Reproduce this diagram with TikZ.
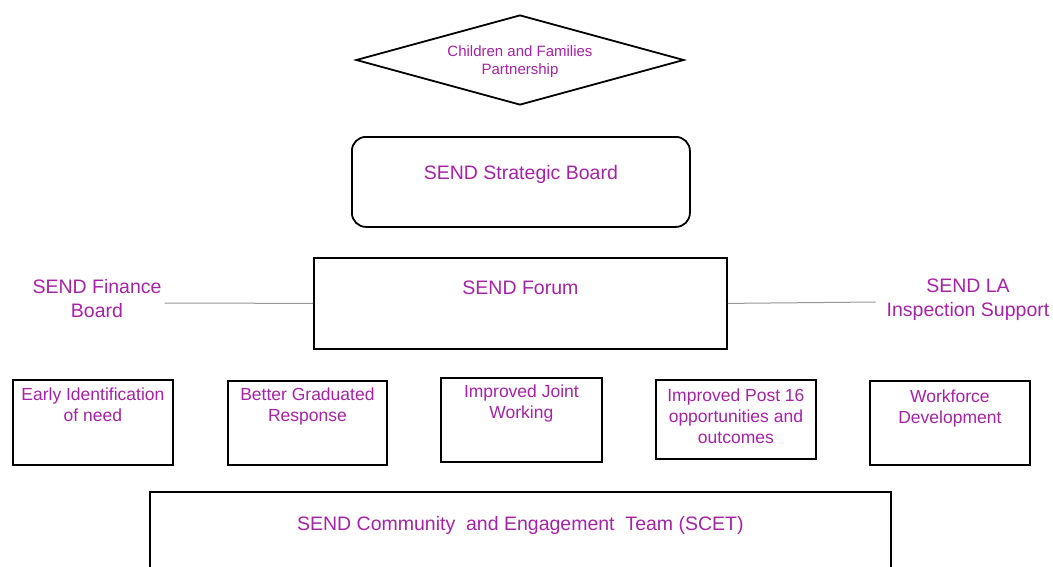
\documentclass[tikz,border=0pt]{standalone}
\usepackage{fontspec}
\setmainfont{Liberation Sans}
\usetikzlibrary{shapes.geometric}
\definecolor{txt}{RGB}{165,35,165}
\definecolor{conn}{RGB}{150,150,150}
\begin{document}
\begin{tikzpicture}[x=1pt,y=-1pt,
  box/.style={draw=black,line width=1.8pt,rectangle,inner sep=0pt,anchor=north west},
  lab/.style={text=txt,align=center,anchor=north,inner sep=0pt},
  big/.style={font=\fontsize{19.5}{24}\selectfont},
  small/.style={font=\fontsize{17.5}{21}\selectfont},
  connector/.style={draw=conn,line width=1pt}]
\useasboundingbox (0,0) rectangle (1053,566);
\clip (0,0) rectangle (1053,566);
\fill[white] (0,0) rectangle (1053,566);

% diamond
\node[diamond,draw=black,line width=1.8pt,aspect=3.64,minimum width=328pt,minimum height=90pt,inner sep=0pt,
      text=txt,align=center,text depth=0pt,font=\fontsize{15}{18.5}\selectfont] (cfp) at (520,60)
      {Children and Families\\Partnership};

% strategic board
\node[box,rounded corners=14pt,minimum width=338pt,minimum height=90pt,
      label={[lab,big,yshift=-29pt]north:SEND Strategic Board}] (board) at (351,136) {};

% forum
\node[box,minimum width=413pt,minimum height=91pt,
      label={[lab,big,yshift=-24pt]north:SEND Forum}] (forum) at (313,257) {};

% side labels
\node[text=txt,align=center,big,inner sep=3pt] (fin) at (97,299) {SEND Finance\\Board};
\node[text=txt,align=center,big,inner sep=3pt] (la) at (968,300) {SEND LA\\Inspection Support};
\draw[connector] ([yshift=-4pt]fin.east) -- (forum.west);
\draw[connector] (forum.east) -- ([xshift=-8pt,yshift=-2pt]la.west);

% workstream boxes
\node[box,minimum width=160pt,minimum height=85pt,
      label={[lab,small,yshift=-9pt]north:Early Identification\\of need}] (early) at (12,379) {};
\node[box,minimum width=159pt,minimum height=84pt,
      label={[lab,small,yshift=-8pt]north:Better Graduated\\Response}] (grad) at (227,380) {};
\node[box,minimum width=161pt,minimum height=84pt,
      label={[lab,small,yshift=-8pt]north:Improved Joint\\Working}] (joint) at (440,377) {};
\node[box,minimum width=160pt,minimum height=79pt,
      label={[lab,small,yshift=-10pt]north:Improved Post 16\\opportunities and\\outcomes}] (post) at (655,379) {};
\node[box,minimum width=160pt,minimum height=84pt,
      label={[lab,small,yshift=-10pt]north:Workforce\\Development}] (work) at (869,380) {};

% bottom box
\node[box,minimum width=741pt,minimum height=120pt,
      label={[lab,font=\fontsize{19.5}{24}\selectfont,yshift=-25pt]north:SEND Community\ \ and Engagement\ \ Team (SCET)}] (scet) at (149,491) {};
\end{tikzpicture}
\end{document}
